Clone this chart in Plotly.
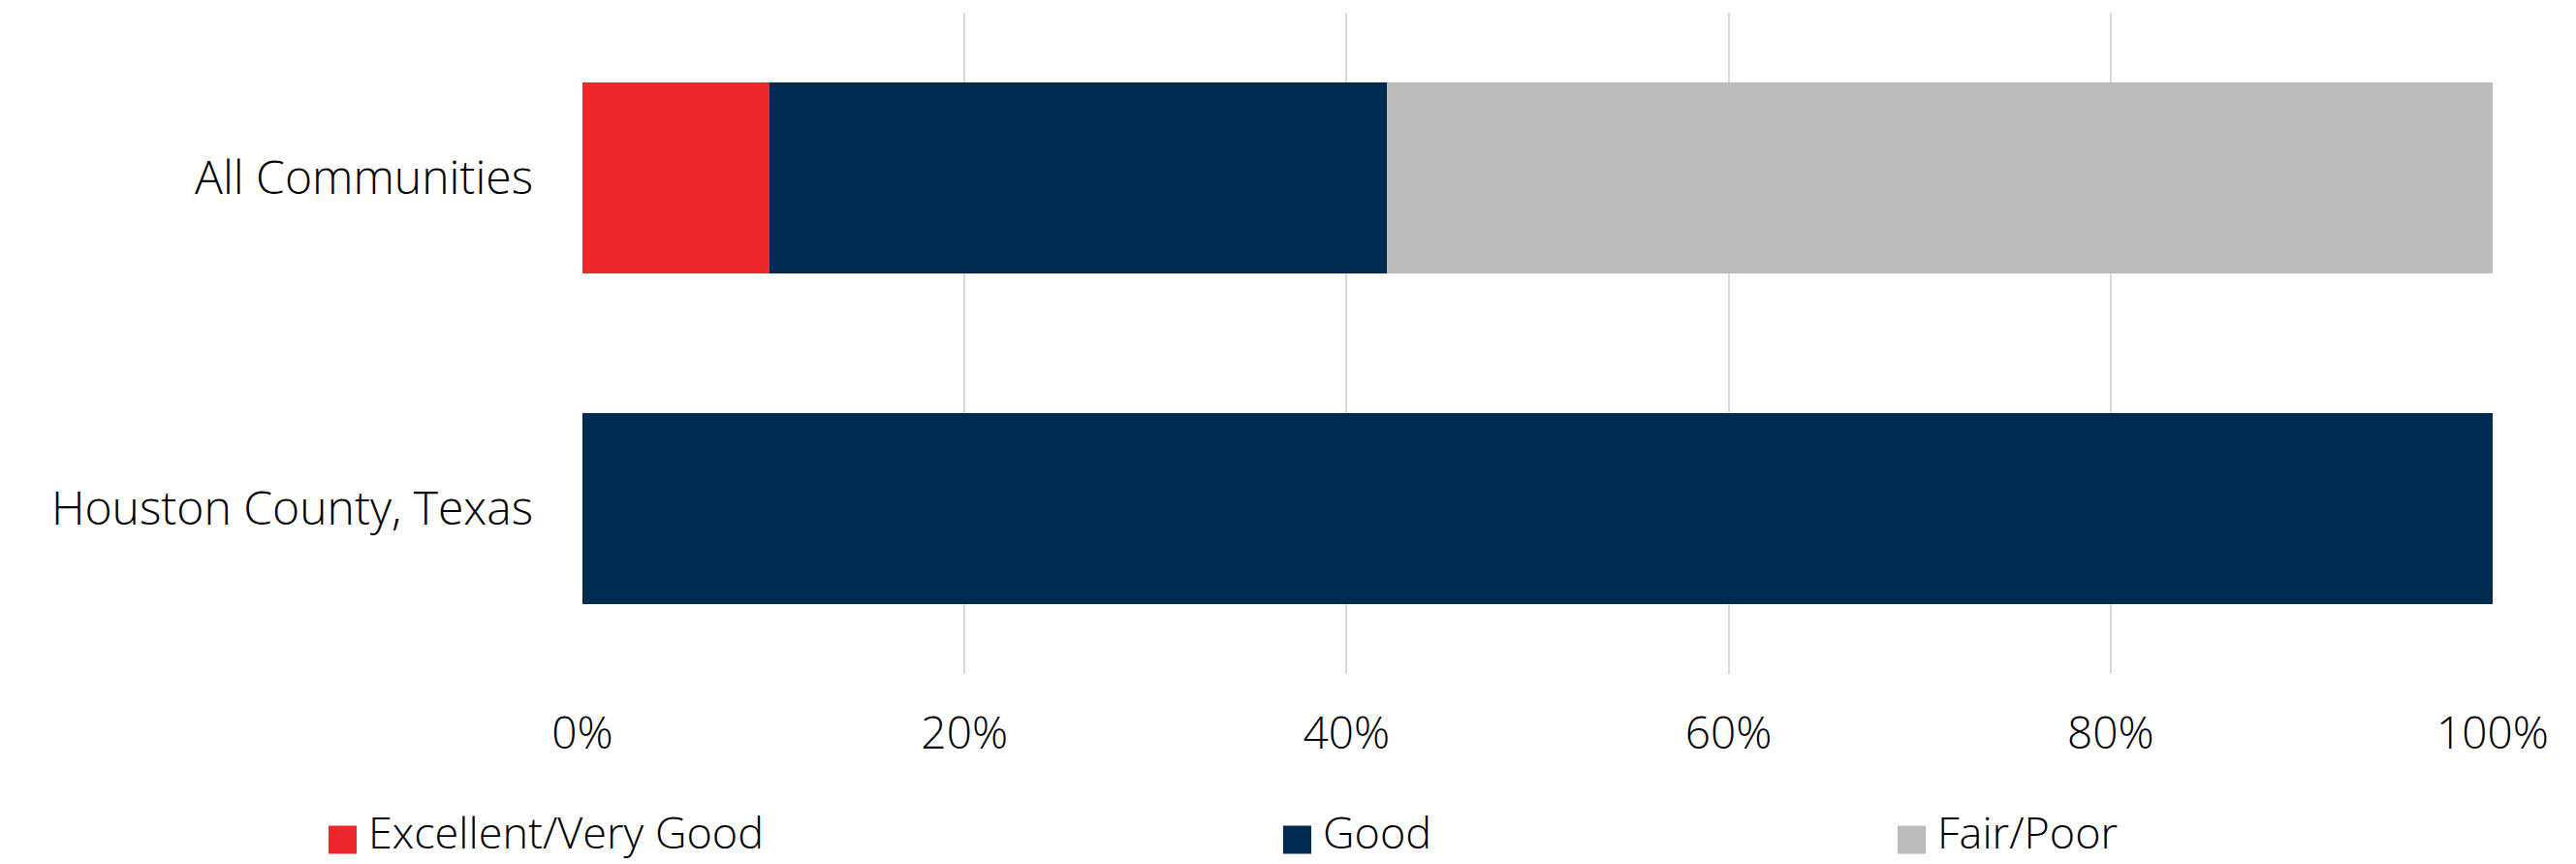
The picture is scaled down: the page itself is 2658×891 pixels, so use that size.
import plotly.graph_objects as go

categories = ["All Communities", "Houston County, Texas"]
series_names = ["Excellent/Very Good", "Good", "Fair/Poor"]
excellent_vals = [9.8, 0.0]
good_vals = [32.3, 100.0]
fair_vals = [57.9, 0.0]
tick_vals = [0, 20, 40, 60, 80, 100]
tick_text = ["0%", "20%", "40%", "60%", "80%", "100%"]

colors = ["#EE272D", "#002B50", "#BCBABB"]
FONT = "Open Sans"
FSIZE = 48
TSIZE = 46
LSIZE = 45

W, H = 2658, 891
OFF = 8  # page body margin offset
ML, MR, MT, MB = 593, 94, 5, 204
PW, PH = W - ML - MR, H - MT - MB

fig = go.Figure()
for name, vals, col in zip(series_names, [excellent_vals, good_vals, fair_vals], colors):
    fig.add_trace(go.Bar(
        y=categories, x=vals, name=name, orientation="h",
        marker=dict(color=col, line=dict(width=0)),
        showlegend=False,
    ))

# Legend drawn as swatches + text
legend_px = [339 - OFF, 1324 - OFF, 1958 - OFF]
legend_cy = 866 - OFF
text_cy = 857 - OFF
sw = 29
shapes, annots = [], []
for name, col, px in zip(series_names, colors, legend_px):
    x0 = (px - ML) / PW
    x1 = (px + sw - ML) / PW
    y0 = (H - MB - (legend_cy + sw / 2)) / PH
    y1 = (H - MB - (legend_cy - sw / 2)) / PH
    shapes.append(dict(type="rect", xref="paper", yref="paper", x0=x0, x1=x1, y0=y0, y1=y1,
                       fillcolor=col, line=dict(width=0)))
    annots.append(dict(text=name, xref="paper", yref="paper",
                       x=(px + sw + 10 - ML) / PW, y=(H - MB - text_cy) / PH,
                       xanchor="left", yanchor="middle", showarrow=False,
                       font=dict(family=FONT, size=LSIZE, color="#000000", weight=300)))

fig.update_layout(
    barmode="stack",
    bargap=0.425,
    width=W, height=H,
    margin=dict(l=ML, r=MR, t=MT, b=MB),
    plot_bgcolor="white", paper_bgcolor="white",
    font=dict(family=FONT, size=FSIZE, color="#000000", weight=300),
    showlegend=False,
    xaxis=dict(
        range=[0, 100], tickvals=tick_vals, ticktext=tick_text,
        showgrid=True, gridcolor="#D9D9D9", gridwidth=2,
        zeroline=False, showline=False,
        ticks="", ticklabelstandoff=30,
        tickfont=dict(family=FONT, size=TSIZE, color="#000000", weight=300),
    ),
    yaxis=dict(
        autorange="reversed", showgrid=False, zeroline=False, showline=False,
        ticks="", ticklabelstandoff=50,
        tickfont=dict(family=FONT, size=FSIZE, color="#000000", weight=300),
    ),
    shapes=shapes,
    annotations=annots,
)

fig.write_html("out.html")
